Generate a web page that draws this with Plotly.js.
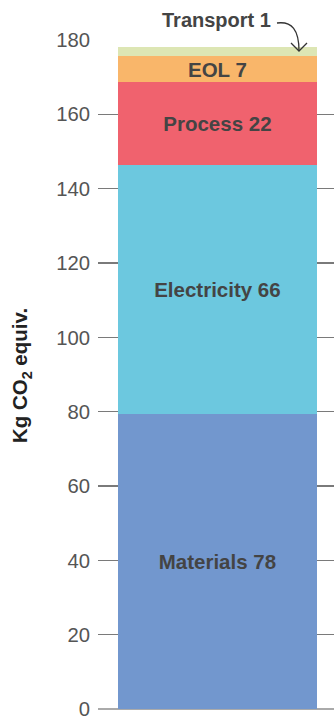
<!DOCTYPE html>
<html>
<head>
<meta charset="utf-8">
<script src="https://cdn.plot.ly/plotly-3.0.1.min.js"></script>
<style>html,body{margin:0;padding:0;background:#fff;}#chart{width:334px;height:717px;}</style>
</head>
<body>
<div id="chart"></div>
<script>
const categories = ['Materials', 'Electricity', 'Process', 'EOL', 'Transport'];
const values = [79.4, 66.9, 22.4, 6.9, 2.4];
const labelNumbers = [78, 66, 22, 7, 1];
const colors = ['#7297CE', '#6CC8DF', '#F0626E', '#F9B66A', '#DDE6B4'];
const tickValues = [0, 20, 40, 60, 80, 100, 120, 140, 160, 180];
const xName = ['Total'];

const W = 334, H = 717;
const M = {l: 98, r: 0, t: 40, b: 5.6};
const pw = W - M.l - M.r, ph = H - M.t - M.b;
const px = x => (x - M.l) / pw;
const py = y => (H - M.b - y) / ph;
const last = categories.length - 1;

const traces = categories.map((c, i) => {
  const t = {
    type: 'bar',
    x: xName,
    y: [values[i]],
    name: c,
    marker: {color: colors[i], line: {width: 0}},
    width: 0.84,
    hoverinfo: 'none'
  };
  if (i < last) {
    t.text = [c + ' ' + labelNumbers[i]];
    t.textposition = 'inside';
    t.insidetextanchor = 'middle';
    t.textangle = 0;
    t.constraintext = 'none';
    t.textfont = {family: 'Liberation Sans, Arial, sans-serif', size: 20.5, color: '#444', weight: 'bold'};
  } else {
    t.textposition = 'none';
  }
  return t;
});

const layout = {
  width: W, height: H,
  margin: M,
  barmode: 'stack',
  showlegend: false,
  paper_bgcolor: '#fff',
  plot_bgcolor: '#fff',
  font: {family: 'Liberation Sans, Arial, sans-serif', color: '#555'},
  xaxis: {range: [-0.506, 0.494], showticklabels: false, showgrid: false, zeroline: false, showline: false, ticks: ''},
  yaxis: {
    range: [-0.5, 180],
    tickvals: tickValues,
    ticktext: tickValues.map(String),
    tickfont: {size: 20.3, color: '#555'},
    ticklabeloverflow: 'allow',
    showgrid: true, gridcolor: '#7a7a7a', gridwidth: 1.2,
    zeroline: true, zerolinecolor: '#aaaaaa', zerolinewidth: 2.5,
    showline: false, ticks: '',
    ticklabelstandoff: 7,
    title: {text: 'Kg CO<sub>2</sub> equiv.', font: {size: 20.5, color: '#222', weight: 'bold'}, standoff: 22}
  },
  annotations: [{
    xref: 'paper', yref: 'paper',
    x: px(216), y: py(20),
    text: categories[last] + ' ' + labelNumbers[last],
    showarrow: false,
    font: {size: 20, color: '#444', weight: 'bold'},
    xanchor: 'center', yanchor: 'middle'
  }],
  shapes: [
    {type: 'path', xref: 'paper', yref: 'paper',
     path: `M ${px(277)} ${py(23)} C ${px(292)} ${py(21)}, ${px(299)} ${py(30)}, ${px(299)} ${py(51)}`,
     line: {color: '#333', width: 1.3}},
    {type: 'path', xref: 'paper', yref: 'paper',
     path: `M ${px(291)} ${py(43)} L ${px(299)} ${py(51)} L ${px(307)} ${py(43)}`,
     line: {color: '#333', width: 1.3}}
  ]
};

Plotly.newPlot('chart', traces, layout, {displayModeBar: false, staticPlot: true});
</script>
</body>
</html>
